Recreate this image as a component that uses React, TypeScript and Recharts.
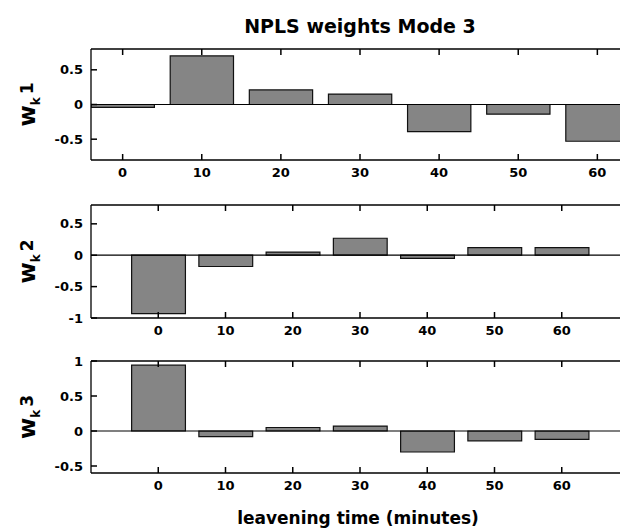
import React from "react";
import { Bar, BarChart, ReferenceLine, XAxis, YAxis } from "recharts";

// leavening time (minutes)
const times = [0, 10, 20, 30, 40, 50, 60];
// NPLS weights, mode 3, components 1..3
const weights1 = [-0.04, 0.7, 0.21, 0.15, -0.39, -0.14, -0.53];
const weights2 = [-0.93, -0.18, 0.05, 0.27, -0.05, 0.12, 0.12];
const weights3 = [0.94, -0.08, 0.05, 0.07, -0.3, -0.14, -0.12];
const yTicks1 = [-0.5, 0, 0.5];
const yTicks2 = [-1, -0.5, 0, 0.5];
const yTicks3 = [-0.5, 0, 0.5, 1];
const BAR_WIDTH = 8; // bar width in minutes

const FONT = "'DejaVu Sans', sans-serif";
const CHART_W = 660;
const PLOT_LEFT = 91;
const PLOT_RIGHT = 629;
const M_TOP = 12;
const TOP_AXIS_H = 1;
const X_AXIS_H = 26;
const LABEL_X = 35;
const TICK_LEN = 6;

const axisLine = { stroke: "#000", strokeWidth: 1.3 };

// inward MATLAB-style ticks, label outside
function BottomTick(props: any) {
  const { x, y, payload } = props;
  return (
    <g>
      <path d={`M${x},${y}V${y - TICK_LEN}`} stroke="#000" strokeWidth={1.5} fill="none" />
      <text x={x} y={y + 17} textAnchor="middle" fontFamily={FONT} fontWeight="bold" fontSize={13} fill="#000">
        {payload.value}
      </text>
    </g>
  );
}

function TopTick(props: any) {
  const { x, y } = props;
  return <path d={`M${x},${y}V${y + TICK_LEN}`} stroke="#000" strokeWidth={1.5} fill="none" />;
}

function LeftTick(props: any) {
  const { x, y, payload } = props;
  return (
    <g>
      <path d={`M${x},${y}H${x + TICK_LEN}`} stroke="#000" strokeWidth={1.5} fill="none" />
      <text x={x - 8} y={y + 4.5} textAnchor="end" fontFamily={FONT} fontWeight="bold" fontSize={13} fill="#000">
        {payload.value}
      </text>
    </g>
  );
}

type PanelProps = {
  values: number[];
  xDomain: [number, number];
  yDomain: [number, number];
  yTicks: number[];
  top: number;
  plotH: number;
};

function Panel({ values, xDomain, yDomain, yTicks, top, plotH }: PanelProps) {
  const data = times.map((t, i) => ({ t, w: values[i] }));
  const barSize = (BAR_WIDTH * (PLOT_RIGHT - PLOT_LEFT)) / (xDomain[1] - xDomain[0]);
  return (
    <div style={{ position: "absolute", left: 0, top: top - M_TOP - TOP_AXIS_H }}>
      <BarChart
        width={CHART_W}
        height={M_TOP + TOP_AXIS_H + plotH + X_AXIS_H}
        data={data}
        barSize={barSize}
        margin={{ top: M_TOP, right: CHART_W - PLOT_RIGHT, bottom: 0, left: 0 }}
      >
        <XAxis
          dataKey="t"
          type="number"
          domain={xDomain}
          ticks={times}
          interval={0}
          allowDataOverflow
          height={X_AXIS_H}
          tickSize={0}
          tickMargin={0}
          tickLine={false}
          axisLine={axisLine}
          tick={(p: any) => <BottomTick {...p} />}
        />
        <XAxis
          xAxisId="top"
          orientation="top"
          dataKey="t"
          type="number"
          domain={xDomain}
          ticks={times}
          interval={0}
          allowDataOverflow
          height={TOP_AXIS_H}
          tickSize={0}
          tickMargin={0}
          tickLine={false}
          axisLine={axisLine}
          tick={(p: any) => <TopTick {...p} />}
        />
        <YAxis
          type="number"
          domain={yDomain}
          ticks={yTicks}
          interval={0}
          allowDataOverflow
          width={PLOT_LEFT}
          tickSize={0}
          tickMargin={0}
          tickLine={false}
          axisLine={axisLine}
          tick={(p: any) => <LeftTick {...p} />}
        />
        <Bar dataKey="w" fill="#858585" stroke="#111" strokeWidth={1.2} isAnimationActive={false} />
        <ReferenceLine y={0} stroke="#000" strokeWidth={1.2} />
      </BarChart>
    </div>
  );
}

function YLabel({ cy, n }: { cy: number; n: number }) {
  return (
    <text
      transform={`rotate(-90 ${LABEL_X} ${cy})`}
      x={LABEL_X}
      y={cy}
      textAnchor="middle"
      fontFamily={FONT}
      fontWeight="bold"
      fill="#000"
    >
      <tspan fontSize={23}>w</tspan>
      <tspan fontSize={12} dy={5}>k</tspan>
      <tspan fontSize={17} dy={-7} dx={3}>{n}</tspan>
    </text>
  );
}

export default function App() {
  return (
    <div
      style={{
        position: "absolute",
        left: 0,
        top: 0,
        width: 620,
        height: 530,
        overflow: "hidden",
        background: "#fff",
      }}
    >
      <Panel values={weights1} xDomain={[-4, 64]} yDomain={[-0.8, 0.8]} yTicks={yTicks1} top={49} plotH={111} />
      <Panel values={weights2} xDomain={[-10, 70]} yDomain={[-1, 0.8]} yTicks={yTicks2} top={205} plotH={113} />
      <Panel values={weights3} xDomain={[-10, 70]} yDomain={[-0.6, 1]} yTicks={yTicks3} top={361} plotH={112} />
      <svg width={620} height={530} style={{ position: "absolute", left: 0, top: 0, pointerEvents: "none" }}>
        <text x={360} y={33} textAnchor="middle" fontFamily={FONT} fontWeight="bold" fontSize={19} fill="#000">
          NPLS weights Mode 3
        </text>
        <YLabel cy={104.5} n={1} />
        <YLabel cy={261.5} n={2} />
        <YLabel cy={417} n={3} />
        <text x={358} y={524} textAnchor="middle" fontFamily={FONT} fontWeight="bold" fontSize={17} fill="#000">
          leavening time (minutes)
        </text>
      </svg>
    </div>
  );
}
